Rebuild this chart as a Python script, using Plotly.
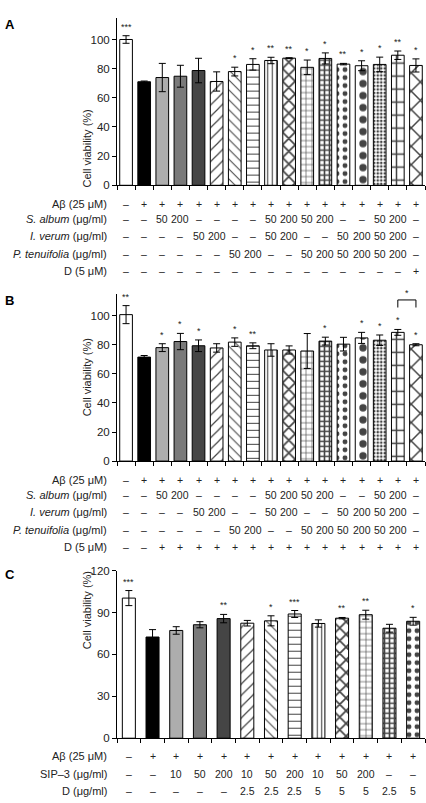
import plotly.graph_objects as go

# ---------------- data ----------------
a_vals = [100, 71, 73.9, 74.8, 78.7, 71.2, 78, 82.9, 85.6, 87.2, 80.9, 87, 83.1, 82, 82.9, 89.2, 82.2]
a_err = [2.6, 0.5, 9.7, 7.5, 8.4, 6.6, 3, 3.9, 2.2, 0.3, 5, 3.8, 0.5, 3.4, 5, 2.9, 4.5]
a_sig = ["***", "", "", "", "", "", "*", "*", "**", "**", "*", "*", "**", "*", "*", "**", "*"]

b_vals = [100.7, 71.5, 78, 82.2, 79.3, 77.8, 81.8, 79.3, 76.4, 76.4, 75.7, 82.5, 80.4, 84.7, 83.1, 88.5, 80]
b_err = [6.2, 1.1, 2.7, 5.6, 4, 2.9, 2.9, 2, 4.3, 2.8, 12, 2.7, 4.7, 3.8, 3.6, 2, 0.7]
b_sig = ["**", "", "*", "*", "*", "", "*", "**", "", "", "", "*", "", "*", "*", "*", "*"]
b_bracket = {"left": 15, "right": 16, "top": 110.8, "foot": 105.6, "label": "*"}

c_vals = [100.4, 72.5, 77.2, 81.3, 85.7, 82.4, 84.1, 89, 82.2, 86, 88.5, 78.8, 83.8]
c_err = [5.4, 5.3, 2.7, 2.2, 3, 2, 3.6, 2.5, 2.6, 0.5, 3.2, 2.8, 2.8]
c_sig = ["***", "", "", "", "**", "", "*", "***", "", "**", "**", "", "*"]

D = "–"
ab_labels = ["Aβ (25 μM)", "<i>S. album</i> (μg/ml)", "<i>I. verum</i> (μg/ml)",
             "<i>P. tenuifolia</i> (μg/ml)", "D (5 μM)"]
row_abeta = [D] + ["+"] * 16
row_salbum = [D, D, "50", "200", D, D, D, D, "50", "200", "50", "200", D, D, "50", "200", D]
row_iverum = [D, D, D, D, "50", "200", D, D, "50", "200", D, D, "50", "200", "50", "200", D]
row_ptenui = [D, D, D, D, D, D, "50", "200", D, D, "50", "200", "50", "200", "50", "200", D]
row_d_a = [D] * 16 + ["+"]
row_d_b = [D, D] + ["+"] * 15

c_labels = ["Aβ (25 μM)", "SIP–3 (μg/ml)", "D (μg/ml)"]
c_row_abeta = [D] + ["+"] * 12
c_row_sip = [D, D, "10", "50", "200", "10", "50", "200", "10", "50", "200", D, D]
c_row_d = [D, D, D, D, D, "2.5", "2.5", "2.5", "5", "5", "5", "2.5", "5"]

a_ticks = [0, 20, 40, 60, 80, 100]
c_ticks = [0, 30, 60, 90, 120]

# ---------------- styles ----------------
W, H = 426, 803
FONT = "Liberation Sans"
TXT = "#222"

colors = ["white", "black", "#adadad", "#7a7a7a", "#454545"] + ["white"] * 12
shapes_p = ["", "", "", "", "", "/", "\\", "-", "|", "x", "+", "+", ".", ".", ".", "+", "x"]
sizes_p = [8, 8, 8, 8, 8, 8, 7, 7, 4.5, 9, 6, 5, 8, 12, 3.5, 13, 13]
solid_p = [0.3, 0.3, 0.3, 0.3, 0.3, 0.15, 0.15, 0.15, 0.25, 0.35, 0.2, 0.55, 0.3, 0.3, 0.45, 0.22, 0.22]


def py(p):
    return 1 - p / H


def px(p):
    return p / W


XDOM = [px(117), px(425)]

fig = go.Figure()

panels = [
    dict(vals=a_vals, err=a_err, sig=a_sig, x="x", y="y", bw=0.7,
         dom=[py(182), py(11.8)], rng=[0, 115], ticks=a_ticks),
    dict(vals=b_vals, err=b_err, sig=b_sig, x="x2", y="y2", bw=0.7,
         dom=[py(462), py(292.2)], rng=[0, 115], ticks=a_ticks),
    dict(vals=c_vals, err=c_err, sig=c_sig, x="x3", y="y3", bw=0.55,
         dom=[py(743.3), py(573.3)], rng=[0, 120], ticks=c_ticks),
]

annotations = []
shapes = []

for k, p in enumerate(panels):
    n = len(p["vals"])
    xs = list(range(n))
    fig.add_trace(go.Bar(
        x=xs, y=p["vals"], width=p["bw"], xaxis=p["x"], yaxis=p["y"],
        marker=dict(color=colors[:n], line=dict(color="black", width=1),
                    pattern=dict(shape=shapes_p[:n], size=sizes_p[:n], solidity=solid_p[:n],
                                 fgcolor="black", fgopacity=1, fillmode="overlay")),
        error_y=dict(type="data", array=p["err"], color="black", thickness=1, width=3.5),
        showlegend=False, hoverinfo="skip",
    ))
    sfx = "" if k == 0 else str(k + 1)
    fig.update_layout(**{
        "xaxis" + sfx: dict(domain=XDOM, range=[-0.5, n - 0.5], anchor="y" + sfx,
                            tickvals=[i - 0.5 for i in range(n + 1)], showticklabels=False,
                            ticks="outside", ticklen=4, tickcolor="black", showline=True,
                            linecolor="black", linewidth=1, showgrid=False, zeroline=False),
        "yaxis" + sfx: dict(domain=p["dom"], range=p["rng"], anchor="x" + sfx,
                            tickvals=p["ticks"], ticks="outside", ticklen=4, tickcolor="black",
                            showline=True, linecolor="black", linewidth=1, showgrid=False,
                            zeroline=False, tickfont=dict(family=FONT, size=11.5, color=TXT)),
    })
    for i, s in enumerate(p["sig"]):
        if s:
            annotations.append(dict(x=i, y=p["vals"][i] + p["err"][i], xref=p["x"], yref=p["y"],
                                    text=s, showarrow=False, yanchor="bottom", yshift=2,
                                    font=dict(family=FONT, size=9, color=TXT)))

# y-axis titles
for ycen in [103, 377, 655]:
    annotations.append(dict(x=px(79), y=py(ycen), xref="paper", yref="paper",
                            text="Cell viability (%)", textangle=-90, showarrow=False,
                            font=dict(family=FONT, size=11, color=TXT)))

# panel letters
for letter, yc in [("A", 19), ("B", 298.5), ("C", 577.5)]:
    annotations.append(dict(x=px(3), y=py(yc), xref="paper", yref="paper", text="<b>%s</b>" % letter,
                            showarrow=False, xanchor="left", yanchor="middle",
                            font=dict(family=FONT, size=13, color="black")))

# bracket in panel B
br = b_bracket
shapes.append(dict(type="path", xref="x2", yref="y2",
                   path="M %s,%s L %s,%s L %s,%s L %s,%s" % (br["left"], br["foot"], br["left"], br["top"],
                                                             br["right"], br["top"], br["right"], br["foot"]),
                   line=dict(color="black", width=1)))
annotations.append(dict(x=(br["left"] + br["right"]) / 2, y=br["top"], xref="x2", yref="y2",
                        text=br["label"], showarrow=False, yanchor="bottom", yshift=0,
                        font=dict(family=FONT, size=9, color=TXT)))


def table(labels, rows, xref, ys):
    for lab, row, yc in zip(labels, rows, ys):
        annotations.append(dict(x=px(109), y=py(yc), xref="paper", yref="paper", text=lab,
                                showarrow=False, xanchor="right", yanchor="middle",
                                font=dict(family=FONT, size=11, color=TXT)))
        for i, t in enumerate(row):
            annotations.append(dict(x=i, y=py(yc), xref=xref, yref="paper", text=t,
                                    showarrow=False, xanchor="center", yanchor="middle",
                                    font=dict(family=FONT, size=10.5, color=TXT)))


table(ab_labels, [row_abeta, row_salbum, row_iverum, row_ptenui, row_d_a], "x",
      [200.7, 216.5, 233.5, 251.7, 269.3])
table(ab_labels, [row_abeta, row_salbum, row_iverum, row_ptenui, row_d_b], "x2",
      [480.7, 496.5, 513.5, 531.7, 549.3])
table(c_labels, [c_row_abeta, c_row_sip, c_row_d], "x3", [761.7, 779.3, 797.3])

fig.update_layout(width=W, height=H, margin=dict(l=0, r=0, t=0, b=0),
                  plot_bgcolor="white", paper_bgcolor="white",
                  annotations=annotations, shapes=shapes, bargap=0.3)

fig.write_html("out.html")
